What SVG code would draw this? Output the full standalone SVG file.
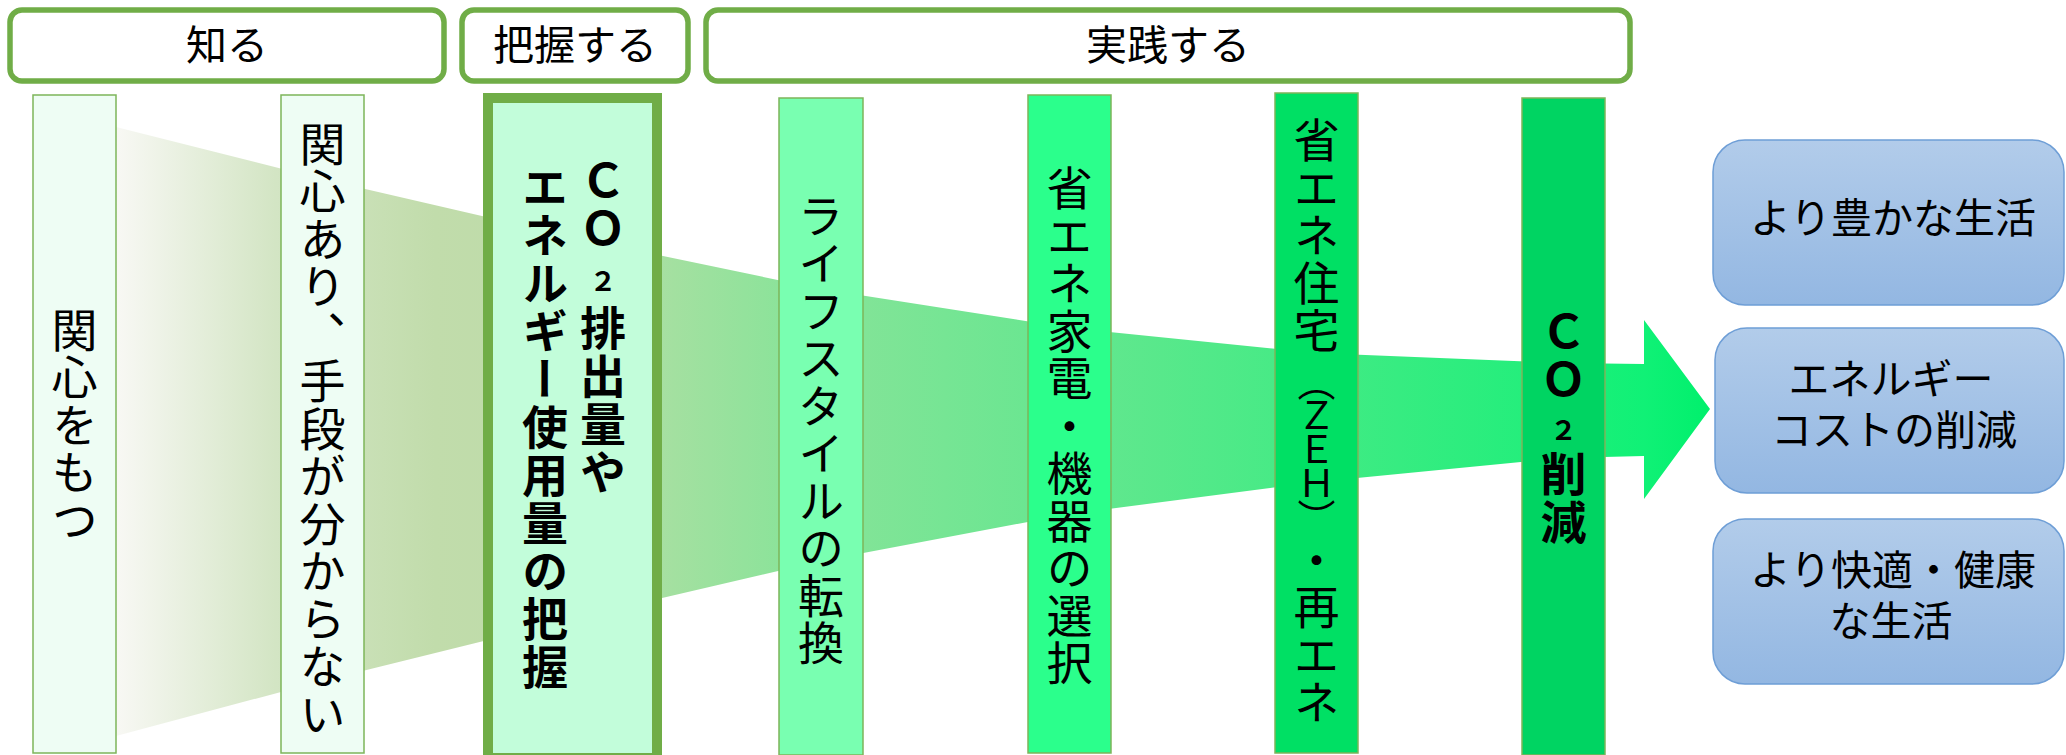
<svg xmlns="http://www.w3.org/2000/svg" width="2066" height="755" viewBox="0 0 2066 755">
<defs>
<style>
.hdr{fill:#FFFFFF;stroke:#70AD47;stroke-width:5.5}
.ht{font-family:"Noto Sans CJK JP","Noto Sans",sans-serif;font-size:41px;fill:#000;text-anchor:middle}
.bar{stroke:#7DB55A;stroke-width:1.5}
.v{writing-mode:vertical-rl;font-family:"Noto Sans CJK JP","Noto Sans",sans-serif;font-size:46px;letter-spacing:1.5px;fill:#000}
.vb{writing-mode:vertical-rl;font-family:"Noto Sans CJK JP","Noto Sans",sans-serif;font-size:46px;font-weight:700;letter-spacing:2px;fill:#000}
.mid{text-anchor:middle}
.box{fill:url(#blue);stroke:#6E9ED6;stroke-width:1.5}
.bt{font-family:"Noto Sans CJK JP","Noto Sans",sans-serif;font-size:41px;fill:#000;text-anchor:middle}
</style>
<linearGradient id="flow" gradientUnits="userSpaceOnUse" x1="116" y1="0" x2="1710" y2="0">
<stop offset="0" stop-color="#F8F8F4"/>
<stop offset="0.1" stop-color="#D3E5C4"/>
<stop offset="0.2" stop-color="#C1DCAB"/>
<stop offset="0.3" stop-color="#BCDCA8"/>
<stop offset="0.35" stop-color="#A3E0A0"/>
<stop offset="0.417" stop-color="#8CE39A"/>
<stop offset="0.572" stop-color="#6BE691"/>
<stop offset="0.727" stop-color="#48EA86"/>
<stop offset="0.882" stop-color="#25EE7C"/>
<stop offset="0.959" stop-color="#10F176"/>
<stop offset="1" stop-color="#00F06C"/>
</linearGradient>
<linearGradient id="blue" x1="0" y1="0" x2="0" y2="1">
<stop offset="0" stop-color="#B2CCEA"/>
<stop offset="1" stop-color="#93B7E2"/>
</linearGradient>
</defs>
<rect width="2066" height="755" fill="#FFFFFF"/>

<g id="connectors">
<path d="M116,127 L322,179 L572,237 L821,289 L1070,328 L1316,353 L1563,363 L1644,364 L1644,320 L1710,409 L1644,499 L1644,456 L1563,458 L1316,482 L1070,514 L821,561 L572,619 L322,681 L116,736 Z" fill="url(#flow)"/>
</g>

<g id="header-shiru">
<rect class="hdr" x="10" y="10" width="434" height="71" rx="12"/>
<text class="ht" x="227" y="60">知る</text>
</g>
<g id="header-haaku">
<rect class="hdr" x="462" y="10" width="226" height="71" rx="12"/>
<text class="ht" x="575" y="60">把握する</text>
</g>
<g id="header-jissen">
<rect class="hdr" x="706" y="10" width="924" height="71" rx="12"/>
<text class="ht" x="1168" y="60">実践する</text>
</g>

<g id="node-kanshin">
<rect class="bar" x="33" y="95" width="83" height="658" fill="#EEFDF4"/>
<text class="v mid" x="74.5" y="425">関心をもつ</text>
</g>
<g id="node-shudan">
<rect class="bar" x="281" y="95" width="83" height="658" fill="#EEFDF4"/>
<text class="v mid" x="322.5" y="429">関心あり、手段が分からない</text>
</g>
<g id="node-haaku">
<rect x="488" y="98" width="169" height="660" fill="#C2FDDA" stroke="#70AD47" stroke-width="10"/>
<text class="vb" x="603" y="157">ＣＯ<tspan font-size="27" y="267">２</tspan><tspan y="305">排出量や</tspan></text>
<text class="vb" x="545" y="164">エネルギー使用量の把握</text>
</g>
<g id="node-lifestyle">
<rect class="bar" x="779" y="98" width="84" height="657" fill="#79FFB1"/>
<text class="v mid" x="821" y="430">ライフスタイルの転換</text>
</g>
<g id="node-kaden">
<rect class="bar" x="1028" y="95" width="83" height="658" fill="#2BFF8C"/>
<text class="v mid" x="1069.5" y="426">省エネ家電・機器の選択</text>
</g>
<g id="node-jutaku">
<rect class="bar" x="1275" y="93" width="83" height="660" fill="#00E064"/>
<text class="v" x="1316.5" y="117">省エネ住宅<tspan y="362" font-size="38px" style="letter-spacing:-4px">（ＺＥＨ）</tspan><tspan y="536">・再エネ</tspan></text>
</g>
<g id="node-co2">
<rect class="bar" x="1522" y="98" width="83" height="657" fill="#00D462"/>
<text class="vb" x="1563.5" y="308">ＣＯ<tspan font-size="27" y="416">２</tspan><tspan y="451">削減</tspan></text>
</g>

<g id="result-yutaka">
<rect class="box" x="1713" y="140" width="351" height="165" rx="32"/>
<text class="bt" x="1893" y="233">より豊かな生活</text>
</g>
<g id="result-cost">
<rect class="box" x="1715" y="328" width="349" height="165" rx="32"/>
<text class="bt"><tspan x="1891" y="394">エネルギー</tspan><tspan x="1894" y="445">コストの削減</tspan></text>
</g>
<g id="result-kaiteki">
<rect class="box" x="1713" y="519" width="351" height="165" rx="32"/>
<text class="bt"><tspan x="1893" y="585">より快適・健康</tspan><tspan x="1891" y="636">な生活</tspan></text>
</g>
</svg>
